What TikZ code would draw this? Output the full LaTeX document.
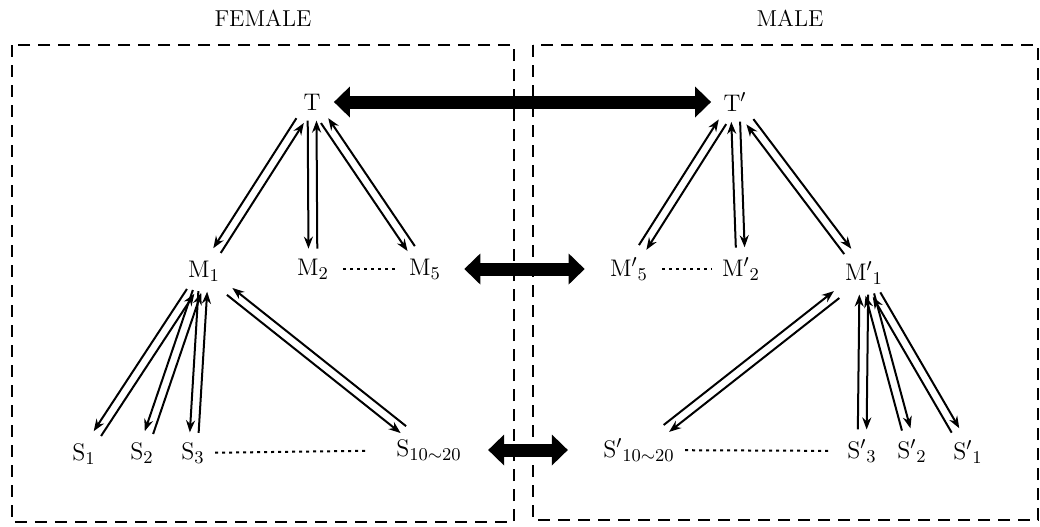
\documentclass[tikz,border=0pt]{standalone}
\usepackage{amsmath,amssymb}
\usepackage{tikz}
\usetikzlibrary{positioning,arrows.meta,calc}

\begin{document}
\begin{tikzpicture}[
  x=0.5pt, y=-0.5pt,
  font=\fontsize{12.5}{15}\selectfont,
  lvl/.style={inner sep=5pt},
  head/.style={font=\fontsize{11.5}{14}\selectfont},
  grp/.style={draw, line width=1pt, dash pattern=on 6pt off 4pt},
  arr/.style={-{Stealth[length=6pt, width=4.5pt]}, line width=1pt},
  fat/.style={{Triangle[length=8pt, width=15pt]}-{Triangle[length=8pt, width=15pt]}, line width=6.5pt},
  dots/.style={line width=1pt, dash pattern=on 1.5pt off 2pt}
]
\useasboundingbox (0,0) rectangle (1040,526);
% ----- the two groups -----
\draw[grp] (12,45) rectangle (514,522);
\draw[grp] (533,45) rectangle (1038,520);
\node[head] (female) at (263,18) {FEMALE};
\node[head] (male) at (790,18) {MALE};
% ----- female side -----
\node[lvl] (T) at (312,102) {$\mathrm{T}$};
\node[lvl] (M1) at (204,271) {$\mathrm{M}_1$};
\node[lvl] (M2) at (313,269) {$\mathrm{M}_2$};
\node[lvl] (M5) at (425,269) {$\mathrm{M}_5$};
\node[lvl] (S1) at (84,454) {$\mathrm{S}_1$};
\node[lvl] (S2) at (142,453) {$\mathrm{S}_2$};
\node[lvl] (S3) at (193,453) {$\mathrm{S}_3$};
\node[lvl] (S10) at (429,450) {$\mathrm{S}_{10\sim20}$};
% ----- male side -----
\node[lvl] (Tp) at (735,102) {$\mathrm{T}'$};
\node[lvl] (Mp5) at (629,269) {${\mathrm{M}'}_5$};
\node[lvl] (Mp2) at (741,269) {${\mathrm{M}'}_2$};
\node[lvl] (Mp1) at (864,273) {${\mathrm{M}'}_1$};
\node[lvl] (Sp10) at (639,450) {${\mathrm{S}'}_{10\sim20}$};
\node[lvl] (Sp3) at (862,451) {${\mathrm{S}'}_3$};
\node[lvl] (Sp2) at (912,451) {${\mathrm{S}'}_2$};
\node[lvl] (Sp1) at (968,452) {${\mathrm{S}'}_1$};
% ----- up and down pairs -----
\foreach \a/\b/\p/\q in {T/M1/-90/90, T/M2/-90/90, T/M5/-90/90,
    M1/S1/-90/90, M1/S2/-90/90, M1/S3/-90/90, M1/S10/-90/90,
    Tp/Mp5/90/-90, Tp/Mp2/90/-90, Tp/Mp1/90/-90,
    Mp1/Sp10/90/-90, Mp1/Sp3/90/-90, Mp1/Sp2/90/-90, Mp1/Sp1/90/-90}{
  \path (\a) -- (\b) coordinate[pos=0] (u) coordinate[pos=1] (l);
  \draw[arr] ($(u)!2.2pt!\p:(l)$) -- ($(l)!2.2pt!\q:(u)$);
  \draw[arr] ($(l)!2.2pt!\p:(u)$) -- ($(u)!2.2pt!\q:(l)$);
}
% ----- dotted runs -----
\draw[dots, shorten <=2pt, shorten >=1pt] (M2) -- (M5);
\draw[dots, shorten >=10pt] (S3) -- (S10);
\draw[dots, shorten <=2pt] (Mp5) -- (Mp2);
\draw[dots, shorten >=3pt] (Sp10) -- (Sp3);
% ----- female to male -----
\draw[fat, shorten <=1.5pt, shorten >=1pt] (T) -- (Tp);
\draw[fat, shorten <=6.5pt, shorten >=7.5pt] (M5) -- (Mp5);
\draw[fat, shorten <=8pt, shorten >=12.5pt] (S10) -- (Sp10);
\end{tikzpicture}
\end{document}
